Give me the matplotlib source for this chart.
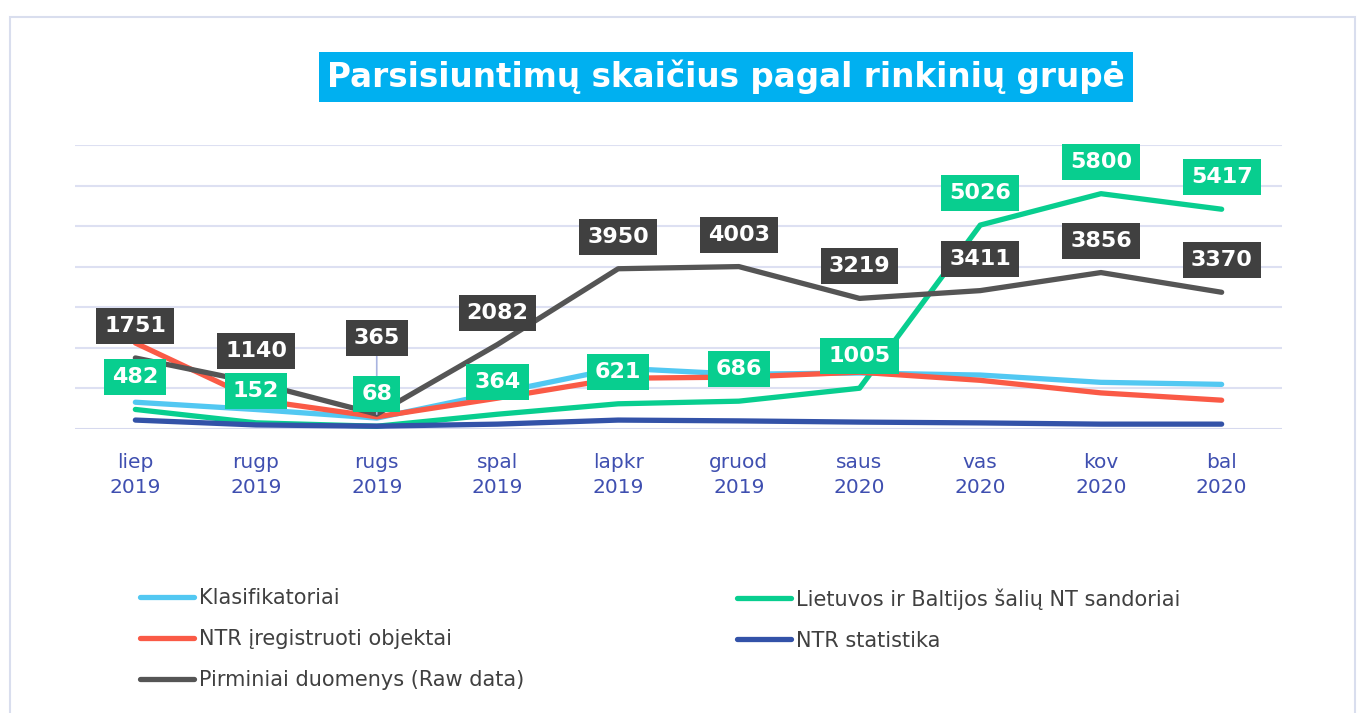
import matplotlib
matplotlib.use("Agg")
import matplotlib.pyplot as plt
import matplotlib.patches as patches
import numpy as np

# months shown on the x axis
months = ["liep\n2019", "rugp\n2019", "rugs\n2019", "spal\n2019", "lapkr\n2019",
          "gruod\n2019", "saus\n2020", "vas\n2020", "kov\n2020", "bal\n2020"]

# series values
klasifikatoriai = [660, 480, 270, 890, 1500, 1350, 1380, 1330, 1150, 1100]
lietuvos_nt = [482, 152, 68, 364, 621, 686, 1005, 5026, 5800, 5417]
ntr_objektai = [2120, 720, 300, 760, 1250, 1280, 1400, 1200, 890, 710]
ntr_statistika = [220, 100, 70, 120, 220, 200, 170, 150, 120, 120]
pirminiai = [1751, 1140, 365, 2082, 3950, 4003, 3219, 3411, 3856, 3370]

plt.rcParams['font.family'] = ['DejaVu Sans']

fig = plt.figure(figsize=(13.61, 7.13), dpi=100)
ax = fig.add_axes([75 / 1361, 1 - 429 / 713, (1282 - 75) / 1361, (429 - 145) / 713])

x = np.arange(len(months))

# outer frame of the chart area
fig.patches.append(patches.Rectangle((10 / 1361, -0.01), 1345 / 1361, 1 - 17 / 713 + 0.01,
                                     transform=fig.transFigure, fill=False,
                                     edgecolor='#D9DEEE', lw=1.5))

# lines
kw = dict(lw=3.8, solid_capstyle='round', solid_joinstyle='round')
l_klas, = ax.plot(x, klasifikatoriai, color='#52C8F2', label='Klasifikatoriai', zorder=3, **kw)
l_liet, = ax.plot(x, lietuvos_nt, color='#08CE8F', label='Lietuvos ir Baltijos šalių NT sandoriai', zorder=3, **kw)
l_ntro, = ax.plot(x, ntr_objektai, color='#FA5A46', label='NTR įregistruoti objektai', zorder=3, **kw)
l_ntrs, = ax.plot(x, ntr_statistika, color='#3352A8', label='NTR statistika', zorder=3, **kw)
l_pirm, = ax.plot(x, pirminiai, color='#555555', label='Pirminiai duomenys (Raw data)', zorder=3, **kw)

# data labels
def add_labels(values, face, z):
    for i, v in enumerate(values):
        dy = 32
        arrow = None
        if face == '#404040' and i == 2:
            dy = 76
            arrow = dict(arrowstyle='-', color='#A9B4E0', lw=1.2, shrinkA=0, shrinkB=0)
        ax.annotate(str(v), (i, v), xytext=(0, dy), textcoords='offset pixels',
                    ha='center', va='center', color='white', fontsize=16,
                    fontweight='bold', zorder=z, annotation_clip=False,
                    arrowprops=arrow,
                    bbox=dict(boxstyle='square,pad=0.36', fc=face, ec='none'))

add_labels(pirminiai, '#404040', 5)
add_labels(lietuvos_nt, '#08CE8F', 6)

ax.set_xlim(-0.5, len(months) - 0.5)
ax.set_ylim(0, 7000)
ax.set_yticks(np.arange(0, 7001, 1000))
ax.set_yticklabels([])
ax.tick_params(axis='y', length=0)
ax.grid(axis='y', color='#DDE0F2', lw=1.5, zorder=0)
ax.axhline(0, color='#D4D8EE', lw=1.8, zorder=1)
ax.set_axisbelow(True)
for s in ax.spines.values():
    s.set_visible(False)

ax.set_xticks(x)
ax.set_xticklabels(months, color='#3F4FB0', fontsize=14.5, linespacing=1.4)
ax.tick_params(axis='x', length=0, pad=17)

# title
fig.text(726 / 1361, 1 - 77 / 713, 'Parsisiuntimų skaičius pagal rinkinių grupė',
         ha='center', va='center', color='white', fontsize=23.5, fontweight='bold',
         bbox=dict(boxstyle='square,pad=0.24', fc='#00B0F0', ec='none'))

# legend in two columns
leg_kw = dict(loc='upper left', frameon=False, fontsize=15, handlelength=2.6,
              handletextpad=0.25, labelspacing=1.02, borderpad=0, borderaxespad=0,
              labelcolor='#404040')
leg1 = fig.legend(handles=[l_klas, l_ntro, l_pirm], bbox_to_anchor=(140 / 1361, 1 - 588 / 713), **leg_kw)
leg2 = fig.legend(handles=[l_liet, l_ntrs], bbox_to_anchor=(737 / 1361, 1 - 588 / 713), **leg_kw)

fig.savefig('out.png', dpi=100)
